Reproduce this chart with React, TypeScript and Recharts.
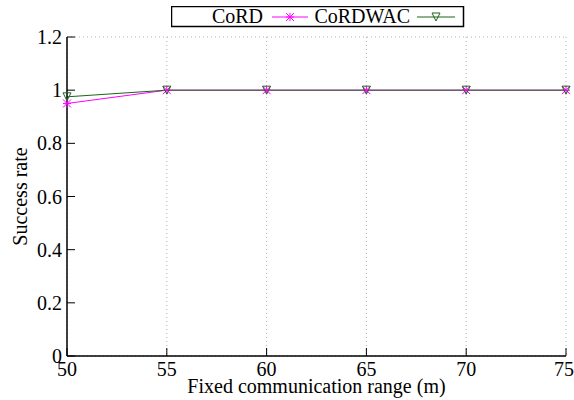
import React from 'react'
import { LineChart, Line, XAxis, YAxis, CartesianGrid } from 'recharts'

const ranges = [50, 55, 60, 65, 70, 75]
const cord = [0.95, 1, 1, 1, 1, 1]
const cordwac = [0.975, 1, 1, 1, 1, 1]
const yTicks = [0, 0.2, 0.4, 0.6, 0.8, 1, 1.2]

const data = ranges.map((r, i) => ({ range: r, cord: cord[i], cordwac: cordwac[i] }))

const PINK = '#ff00ff'
const GREEN = '#1a661a'
const font = 'Liberation Serif'
const FS = 20

function Star(props: any) {
  const { cx, cy } = props
  if (cx == null || cy == null) return null
  const s = 4
  return (
    <g stroke={PINK} strokeWidth={1}>
      <line x1={cx - s} y1={cy} x2={cx + s} y2={cy} />
      <line x1={cx} y1={cy - s} x2={cx} y2={cy + s} />
      <line x1={cx - s} y1={cy - s} x2={cx + s} y2={cy + s} />
      <line x1={cx - s} y1={cy + s} x2={cx + s} y2={cy - s} />
    </g>
  )
}

function Tri(props: any) {
  const { cx, cy } = props
  if (cx == null || cy == null) return null
  const s = 4
  return (
    <polygon
      points={`${cx - s},${cy - s} ${cx + s},${cy - s} ${cx},${cy + s}`}
      fill="none"
      stroke={GREEN}
      strokeWidth={1}
    />
  )
}

// gnuplot style key: title first, then the line sample
function KeyBox() {
  return (
    <svg width={294} height={23} style={{ display: 'block' }}>
      <rect x={0.5} y={0.5} width={292} height={20} fill="#fff" stroke="#000" strokeWidth={1.5} />
      <text x={92} y={17} textAnchor="end" fontFamily={font} fontSize={FS}>CoRD</text>
      <line x1={101} y1={11} x2={137} y2={11} stroke={PINK} />
      <Star cx={119} cy={11} />
      <text x={239} y={17} textAnchor="end" fontFamily={font} fontSize={FS}>CoRDWAC</text>
      <line x1={246} y1={11} x2={284} y2={11} stroke={GREEN} />
      <Tri cx={265} cy={11} />
    </svg>
  )
}

export default function App() {
  return (
    <div style={{ position: 'absolute', left: 0, top: 0, width: 574, height: 400, background: '#fff' }}>
      <LineChart
        width={574}
        height={400}
        data={data}
        margin={{ top: 37, right: 8, left: 0, bottom: 0 }}
      >
        <CartesianGrid stroke="#b0b0b0" strokeDasharray="1 3" />
        <XAxis
          xAxisId="b"
          dataKey="range"
          type="number"
          domain={[50, 75]}
          ticks={ranges}
          height={44}
          tickSize={-8}
          tickMargin={14}
          axisLine={{ stroke: '#000', strokeWidth: 1.5 }}
          tickLine={{ stroke: '#000' }}
          tick={{ fill: '#000', fontFamily: font, fontSize: FS }}
          label={{ value: 'Fixed communication range (m)', position: 'insideBottom', offset: 7, fill: '#000', fontFamily: font, fontSize: FS }}
        />
        <XAxis
          xAxisId="t"
          orientation="top"
          dataKey="range"
          type="number"
          domain={[50, 75]}
          ticks={ranges}
          height={0}
          tickSize={-8}
          tick={false}
          axisLine={{ stroke: '#000', strokeWidth: 1.5 }}
          tickLine={{ stroke: '#000' }}
        />
        <YAxis
          yAxisId="l"
          domain={[0, 1.2]}
          ticks={yTicks}
          width={67}
          tickSize={-8}
          tickMargin={13}
          axisLine={{ stroke: '#000', strokeWidth: 1.5 }}
          tickLine={{ stroke: '#000' }}
          tick={{ fill: '#000', fontFamily: font, fontSize: FS }}
          label={{ value: 'Success rate', angle: -90, position: 'insideLeft', offset: 20, fill: '#000', fontFamily: font, fontSize: FS, style: { textAnchor: 'middle' } }}
        />
        <YAxis
          yAxisId="r"
          orientation="right"
          domain={[0, 1.2]}
          ticks={yTicks}
          width={0}
          tickSize={-8}
          tick={false}
          axisLine={{ stroke: '#000', strokeWidth: 1.5 }}
          tickLine={{ stroke: '#000' }}
        />
        <Line
          xAxisId="b"
          yAxisId="l"
          dataKey="cord"
          stroke={PINK}
          strokeWidth={1}
          dot={<Star />}
          isAnimationActive={false}
        />
        <Line
          xAxisId="b"
          yAxisId="l"
          dataKey="cordwac"
          stroke={GREEN}
          strokeWidth={1}
          dot={<Tri />}
          isAnimationActive={false}
        />
      </LineChart>
      <div style={{ position: 'absolute', left: 171, top: 6 }}>
        <KeyBox />
      </div>
    </div>
  )
}
